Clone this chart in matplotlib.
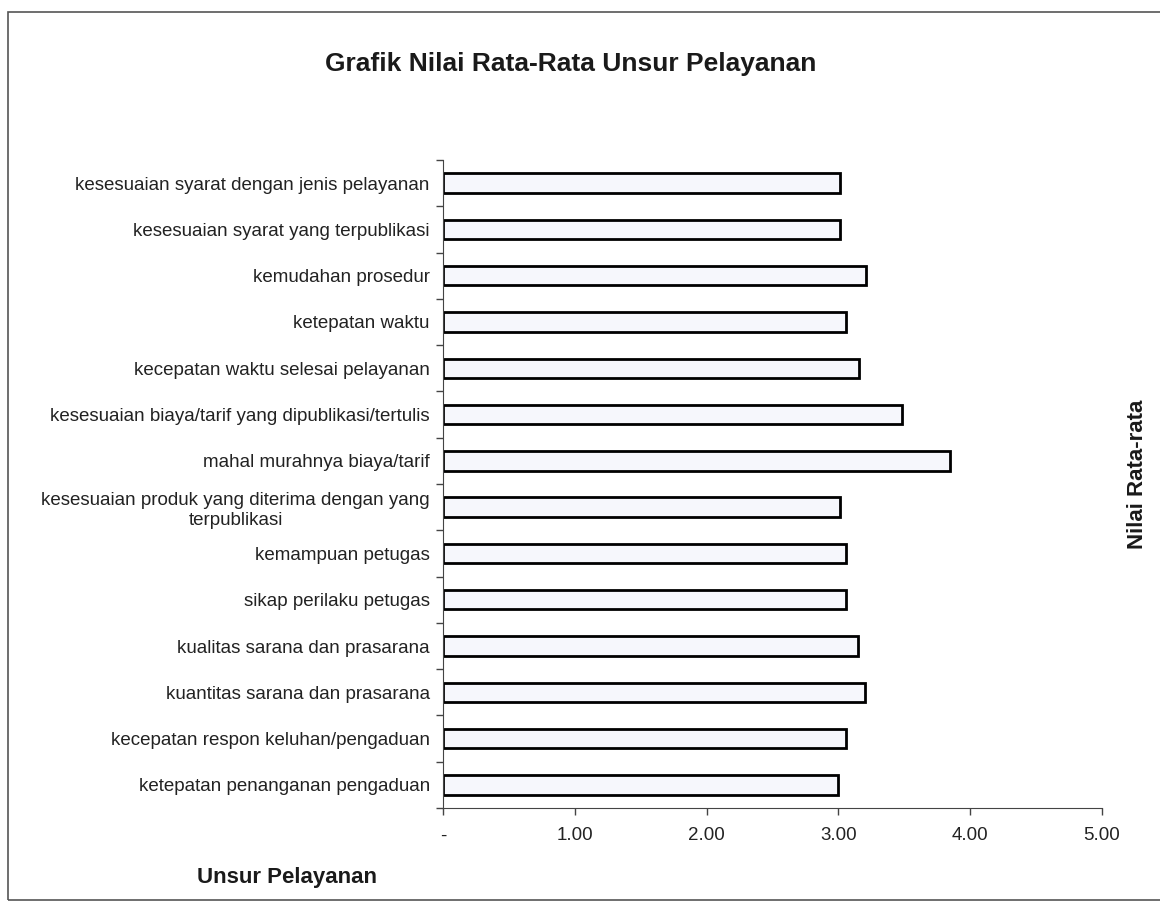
import matplotlib
matplotlib.use("Agg")
import matplotlib.pyplot as plt
from matplotlib.patches import Rectangle

plt.rcParams['font.family'] = ['Liberation Sans', 'DejaVu Sans']

# Nilai rata-rata per unsur pelayanan (urutan dari atas ke bawah)
unsur = [
    "kesesuaian syarat dengan jenis pelayanan",
    "kesesuaian syarat yang terpublikasi",
    "kemudahan prosedur",
    "ketepatan waktu",
    "kecepatan waktu selesai pelayanan",
    "kesesuaian biaya/tarif yang dipublikasi/tertulis",
    "mahal murahnya biaya/tarif",
    "kesesuaian produk yang diterima dengan yang\nterpublikasi",
    "kemampuan petugas",
    "sikap perilaku petugas",
    "kualitas sarana dan prasarana",
    "kuantitas sarana dan prasarana",
    "kecepatan respon keluhan/pengaduan",
    "ketepatan penanganan pengaduan",
]
nilai = [3.01, 3.01, 3.21, 3.06, 3.16, 3.48, 3.85,
         3.01, 3.06, 3.06, 3.15, 3.20, 3.06, 3.00]

x_ticks = [0, 1, 2, 3, 4, 5]
x_labels = ["-", "1.00", "2.00", "3.00", "4.00", "5.00"]

fig = plt.figure(figsize=(11.6, 9.09), dpi=100)
ax = fig.add_axes([0.3819, 0.1111, 0.5681, 0.7129])

pos = list(range(len(unsur)))
ax.barh(pos, nilai, height=0.42, color="#f6f7fc", edgecolor="black", linewidth=2.0)

ax.set_xlim(0, 5)
ax.set_ylim(len(unsur) - 0.5, -0.5)
ax.set_xticks(x_ticks)
ax.set_xticklabels(x_labels, fontsize=13.5, color="#222222")

# label kategori di tengah, tick di antara kategori
ax.set_yticks(pos)
ax.set_yticklabels(unsur, fontsize=13.5, color="#222222")
for lbl in ax.get_yticklabels():
    lbl.set_multialignment("center")
ax.set_yticks([p - 0.5 for p in range(len(unsur) + 1)], minor=True)
ax.tick_params(axis="y", which="major", length=0, pad=9.5)
ax.tick_params(axis="y", which="minor", length=5, width=1, color="#444444")
ax.tick_params(axis="x", length=5, width=1, color="#444444", pad=9)

for side in ["top", "right"]:
    ax.spines[side].set_visible(False)
ax.spines["left"].set_color("#444444")
ax.spines["bottom"].set_color("#444444")

fig.text(0.492, 0.930, "Grafik Nilai Rata-Rata Unsur Pelayanan",
         ha="center", va="center", fontsize=19, fontweight="bold", color="#1a1a1a")
fig.text(0.247, 0.035, "Unsur Pelayanan", ha="center", va="center",
         fontsize=16, fontweight="bold", color="#1a1a1a")
fig.text(0.981, 0.478, "Nilai Rata-rata", ha="center", va="center", rotation=90,
         fontsize=16, fontweight="bold", color="#1a1a1a")

# bingkai area grafik (sisi kanan terpotong di tepi gambar)
fig.patches.append(Rectangle((0.007, 0.01), 1.0, 0.977, transform=fig.transFigure,
                             fill=False, edgecolor="#555555", linewidth=1.2))

fig.savefig("out.png", dpi=100, facecolor="white")
